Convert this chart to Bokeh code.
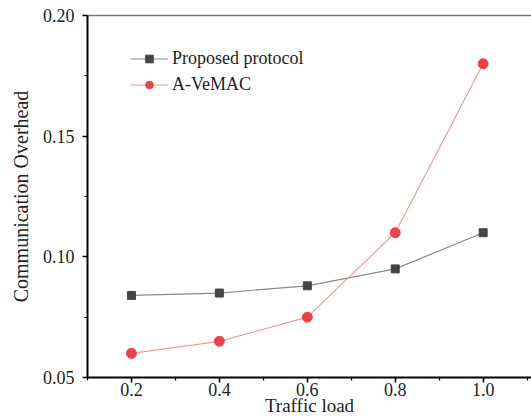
from bokeh.plotting import figure
from bokeh.models import (Range1d, SingleIntervalTicker, FixedTicker, LinearAxis, Legend,
                          LegendItem, CustomJSTickFormatter)
from bokeh.embed import file_html
from bokeh.resources import INLINE

traffic_load = [0.2, 0.4, 0.6, 0.8, 1.0]
proposed = [0.084, 0.085, 0.088, 0.095, 0.110]
avemac = [0.060, 0.065, 0.075, 0.110, 0.180]
series_names = ["Proposed protocol", "A-VeMAC"]

FONT = "Liberation Serif"

p = figure(width=531, height=420, output_backend="svg", toolbar_location=None,
           x_range=Range1d(0.1, 1.11), y_range=Range1d(0.05, 0.20),
           min_border_left=87, min_border_right=0, min_border_top=15, min_border_bottom=43)
p.outline_line_color = None
p.xgrid.grid_line_color = None
p.ygrid.grid_line_color = None
p.background_fill_color = "white"

xax = p.below[0]
yax = p.left[0]

for ax in (xax, yax):
    ax.axis_line_width = 2
    ax.axis_line_color = "black"
    ax.major_tick_line_color = "black"
    ax.minor_tick_line_color = "black"
    ax.major_tick_line_width = 1.5
    ax.minor_tick_line_width = 1.2
    ax.major_tick_out = 5
    ax.major_tick_in = 0
    ax.minor_tick_out = 3
    ax.minor_tick_in = 0
    ax.major_label_text_font = FONT
    ax.major_label_text_font_size = "18px"
    ax.major_label_text_color = "#222222"
    ax.axis_label_text_font = FONT
    ax.axis_label_text_font_size = "19px"
    ax.axis_label_text_font_style = "normal"
    ax.axis_label_text_color = "#222222"

xax.ticker = SingleIntervalTicker(interval=0.2, num_minor_ticks=2)
yax.ticker = SingleIntervalTicker(interval=0.05, num_minor_ticks=2)
xax.formatter = CustomJSTickFormatter(code="return tick.toFixed(1);")
yax.formatter = CustomJSTickFormatter(code="return tick.toFixed(2);")
xax.axis_label = "Traffic load"
yax.axis_label = "Communication Overhead"
yax.axis_label_text_font_size = "20px"
xax.major_label_standoff = 0
xax.axis_label_standoff = -4
yax.major_label_standoff = 8
yax.axis_label_standoff = 8

# top border line
top = LinearAxis(ticker=FixedTicker(ticks=[]), major_tick_line_color=None,
                 minor_tick_line_color=None, axis_line_color="#777777", axis_line_width=1.5)
p.add_layout(top, "above")

l1 = p.line(traffic_load, proposed, line_color="#8a8a8a", line_width=1.2)
s1 = p.scatter(traffic_load, proposed, marker="square", size=8, fill_color="#454545", line_color="#454545")
l2 = p.line(traffic_load, avemac, line_color="#f29a9a", line_width=1.2)
s2 = p.scatter(traffic_load, avemac, marker="circle", size=10, fill_color="#e8424c", line_color="#e8424c")

legend = Legend(items=[LegendItem(label=series_names[0], renderers=[l1, s1]),
                       LegendItem(label=series_names[1], renderers=[l2, s2])],
                location=(43, 282), border_line_color=None, background_fill_alpha=0,
                padding=0, margin=0, spacing=5, glyph_width=38, glyph_height=19,
                label_standoff=4, label_text_font=FONT, label_text_font_size="18px",
                label_text_color="#222222", label_height=19)
p.add_layout(legend)

open("out.html", "w").write(file_html(p, INLINE))
